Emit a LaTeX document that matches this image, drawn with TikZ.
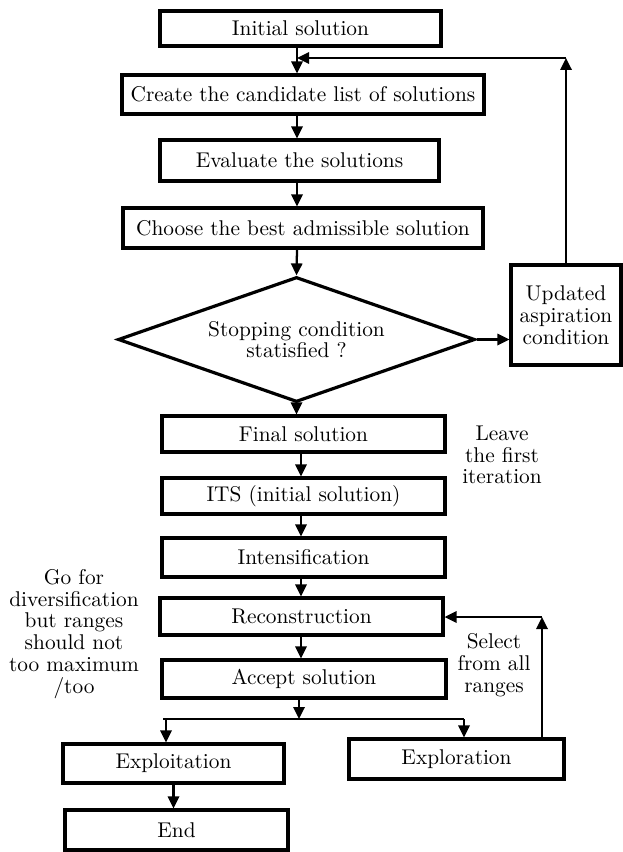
\documentclass[tikz,border=0pt]{standalone}
\usepackage{fontspec}
\setmainfont{lmroman10-regular.otf}
\usetikzlibrary{arrows.meta,shapes.geometric}
\begin{document}
\begin{tikzpicture}[x=0.75pt,y=0.75pt,yscale=-1,xscale=1,
  font=\fontsize{16}{16.3}\selectfont,
  box/.style={draw,line width=2.4pt,inner sep=0.75pt,align=center},
  arr/.style={line width=1.7pt,-{Triangle[length=9pt,width=8.5pt]}},
  lbl/.style={inner sep=0.75pt,align=center}]
\useasboundingbox (0,0) rectangle (623,852);

%Shape: Rectangle [id:init]
\node[box,minimum width=210.75pt,minimum height=26.25pt] (init) at (300.5,28.5) {Initial solution};
%Shape: Rectangle [id:cand]
\node[box,minimum width=271.5pt,minimum height=29.25pt] (cand) at (303,94.5) {Create the candidate list of solutions};
%Shape: Rectangle [id:eval]
\node[box,minimum width=209.25pt,minimum height=30.75pt] (eval) at (299.5,160.5) {Evaluate the solutions};
%Shape: Rectangle [id:choose]
\node[box,minimum width=270pt,minimum height=30pt] (choose) at (303,228) {Choose the best admissible solution};
%Shape: Diamond [id:stop]
\node[box,shape=diamond,inner sep=0pt,aspect=2.86,minimum width=267.75pt,minimum height=93.75pt] (stop) at (296.5,339.5) {Stopping condition\\statisfied ?};
%Shape: Rectangle [id:upd]
\node[box,minimum width=82.5pt,minimum height=75pt] (upd) at (566,315) {Updated\\aspiration\\condition};
%Shape: Rectangle [id:final]
\node[box,minimum width=212.25pt,minimum height=27pt] (final) at (303.5,434) {Final solution};
%Shape: Rectangle [id:its]
\node[box,minimum width=212.25pt,minimum height=27pt] (its) at (303.5,496) {ITS (initial solution)};
%Shape: Rectangle [id:intens]
\node[box,minimum width=212.25pt,minimum height=29.25pt] (intens) at (303.5,557.5) {Intensification};
%Shape: Rectangle [id:recon]
\node[box,minimum width=212.25pt,minimum height=27.75pt] (recon) at (301.5,616.5) {Reconstruction};
%Shape: Rectangle [id:accept]
\node[box,minimum width=213pt,minimum height=28.5pt] (accept) at (304,679) {Accept solution};
%Shape: Rectangle [id:exploit]
\node[box,minimum width=165.75pt,minimum height=29.25pt] (exploit) at (173.5,763.5) {Exploitation};
%Shape: Rectangle [id:explor]
\node[box,minimum width=161.25pt,minimum height=30pt] (explor) at (456.5,759) {Exploration};
%Shape: Rectangle [id:end]
\node[box,minimum width=167.25pt,minimum height=30pt] (end) at (176.5,830) {End};

% Text Node
\node[lbl] (leave) at (502,455) {Leave\\the first\\iteration};
% Text Node
\node[lbl] (divers) at (74,634) {Go for\\diversification\\but ranges\\should not\\too maximum\\/too};
% Text Node
\node[lbl] (select) at (494,665) {Select\\from all\\ranges};

% Straight Lines (columns and corners)
\coordinate (top) at (297,0);
\coordinate (low) at (301,0);
\coordinate (fb) at (297,58);
\coordinate (back) at (542,617);
\coordinate (split) at (299,719);
\coordinate (splitL) at (166,719);
\coordinate (splitR) at (464,719);

\draw[arr] (init.south -| top) -- (cand.north -| top);
\draw[arr] (cand.south -| top) -- (eval.north -| top);
\draw[arr] (eval.south -| top) -- (choose.north -| top);
\draw[arr] (choose.south -| top) -- (stop.north);
\draw[arr] (stop.south) -- (final.north -| stop.south);
\draw[arr] (stop.east) -- (stop.east -| upd.west);
\draw[arr] (upd.north) -- (upd.north |- fb);
\draw[arr] (upd.north |- fb) -- (fb);

\draw[arr] (final.south -| low) -- (its.north -| low);
\draw[arr] (its.south -| low) -- (intens.north -| low);
\draw[arr] (intens.south -| low) -- (recon.north -| low);
\draw[arr] (recon.south -| low) -- (accept.north -| low);
\draw[arr] (accept.south -| split) -- (split);
\draw[line width=1.7pt] (163,719) -- (splitR);
\draw[arr] (splitL) -- (splitL |- exploit.north);
\draw[arr] (splitR) -- (splitR |- explor.north);
\draw[arr] (explor.north -| back) -- (back);
\draw[arr] (back) -- (back -| recon.east);
\draw[arr] (exploit.south) -- (exploit.south |- end.north);

\end{tikzpicture}
\end{document}
